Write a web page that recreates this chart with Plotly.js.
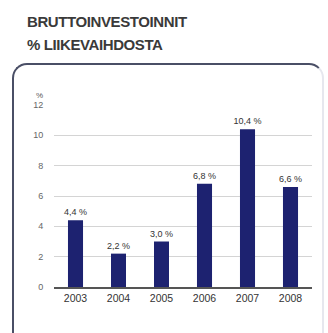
<!DOCTYPE html>
<html><head><meta charset="utf-8">
<script src="https://cdn.plot.ly/plotly-3.0.1.min.js"></script>
<style>
html,body{margin:0;padding:0;background:#fff;width:328px;height:333px;overflow:hidden;}
#frame{position:absolute;left:12px;top:63px;width:312px;height:300px;border:2px solid #4a4f66;border-right-color:#e6e7ee;border-radius:15px;box-sizing:border-box;}
#t{position:absolute;left:27px;top:10px;font-family:"Liberation Sans",Arial,sans-serif;font-weight:bold;font-size:15px;line-height:23px;color:#3a3a3a;letter-spacing:-0.4px;}
#plot{position:absolute;left:0;top:0;}
</style></head>
<body>
<div id="t">BRUTTOINVESTOINNIT<br>% LIIKEVAIHDOSTA</div>
<div id="frame"></div>
<div id="plot"></div>
<script>
const years = ["2003","2004","2005","2006","2007","2008"];
const values = [4.4, 2.2, 3.0, 6.8, 10.4, 6.6];
const labels = ["4,4 %","2,2 %","3,0 %","6,8 %","10,4 %","6,6 %"];
const yTicks = [0,2,4,6,8,10,12];

Plotly.newPlot('plot', [{
  type:'bar', x:years, y:values, text:labels, textposition:'outside', constraintext:'none',
  textfont:{family:'Liberation Sans, Arial', size:9, color:'#333'},
  marker:{color:'#1d2270'}, cliponaxis:false, hoverinfo:'none'
}], {
  width:328, height:333,
  margin:{l:54, r:16, t:105, b:46},
  paper_bgcolor:'rgba(0,0,0,0)', plot_bgcolor:'rgba(0,0,0,0)',
  bargap:0.65, showlegend:false,
  xaxis:{type:'category', showline:true, linecolor:'#555', linewidth:2, showgrid:false,
    tickfont:{family:'Liberation Sans, Arial', size:10.5, color:'#333'}, ticks:'', fixedrange:true},
  yaxis:{range:[0,12], tickvals:yTicks, showgrid:true, gridcolor:'#d4d4d4', gridwidth:1, zeroline:false,
    ticks:'outside', ticklen:8, tickcolor:'rgba(0,0,0,0)',
    tickfont:{family:'Liberation Sans, Arial', size:9, color:'#666'}, fixedrange:true},
  annotations:[{text:'%', xref:'paper', yref:'paper', x:-0.035, y:1.09, xanchor:'right', showarrow:false,
    font:{family:'Liberation Sans, Arial', size:8, color:'#555'}}]
}, {staticPlot:true});
</script>
</body></html>
